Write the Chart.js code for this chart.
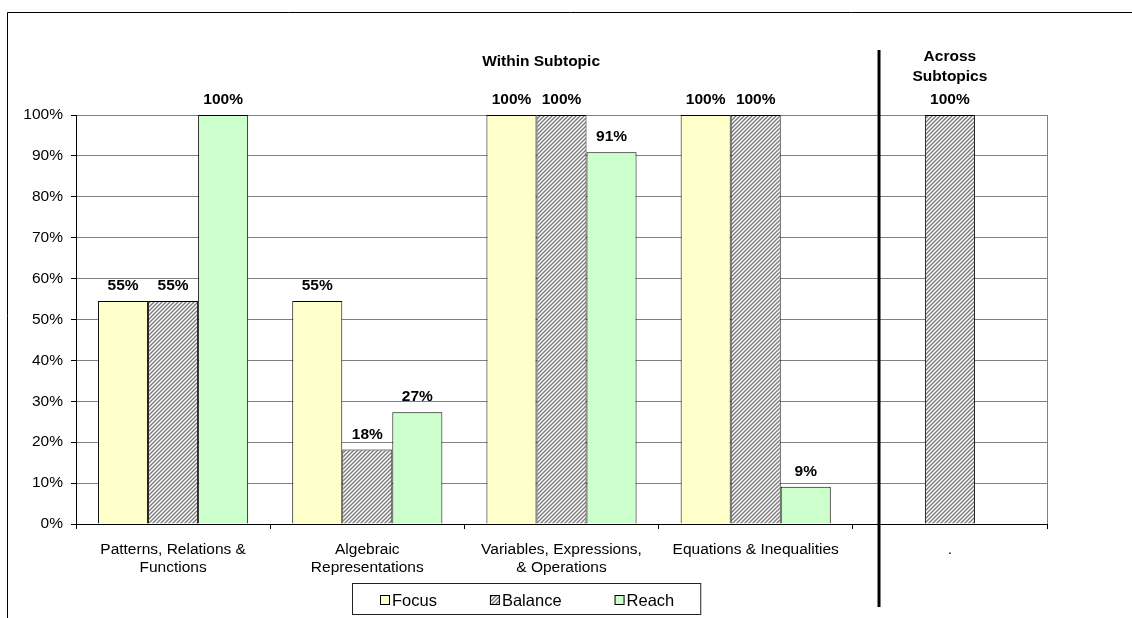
<!DOCTYPE html>
<html>
<head>
<meta charset="utf-8">
<script src="https://cdn.jsdelivr.net/npm/chart.js@4.4.1/dist/chart.umd.min.js"></script>
<style>
  html, body { margin: 0; padding: 0; background: #fff; }
  canvas { display: block; }
</style>
</head>
<body>
<canvas id="chart" width="1132" height="618"></canvas>
<script>
// Chart data
const categories = [
    ['Patterns, Relations &', 'Functions'],
    ['Algebraic', 'Representations'],
    ['Variables, Expressions,', '& Operations'],
    ['Equations & Inequalities'],
    ['.']
];
const focusValues = [54.5, 54.5, 100, 100, null];
const balanceValues = [54.5, 18.2, 100, 100, 100];
const reachValues = [100, 27.3, 90.9, 9.1, null];
const yTicks = [0, 10, 20, 30, 40, 50, 60, 70, 80, 90, 100];

const FONT = "Arial, 'Liberation Sans', sans-serif";
const FS = 15.5;

// Diagonal hatch used for the Balance series
function makeHatch() {
    const c = document.createElement('canvas');
    c.width = 4;
    c.height = 4;
    const g = c.getContext('2d');
    g.fillStyle = '#ffffff';
    g.fillRect(0, 0, 4, 4);
    g.strokeStyle = '#7a7a7a';
    g.lineWidth = 1.4;
    g.beginPath();
    g.moveTo(0, 4); g.lineTo(4, 0);
    g.moveTo(-1, 1); g.lineTo(1, -1);
    g.moveTo(3, 5); g.lineTo(5, 3);
    g.stroke();
    return g.createPattern(c, 'repeat');
}
const hatch = makeHatch();

// Extra drawing: frame, section divider, headings, value labels, legend
const decorations = {
    id: 'decorations',
    beforeDatasetsDraw(chart) {
        const ctx = chart.ctx;
        const a = chart.chartArea;
        ctx.save();
        ctx.strokeStyle = '#808080';
        ctx.lineWidth = 1;
        ctx.beginPath();
        ctx.moveTo(Math.round(a.right) + 0.5, a.top);
        ctx.lineTo(Math.round(a.right) + 0.5, a.bottom);
        ctx.stroke();
        ctx.restore();
    },
    afterDatasetsDraw(chart) {
        const ctx = chart.ctx;
        ctx.save();
        ctx.font = 'bold ' + FS + 'px ' + FONT;
        ctx.fillStyle = '#000';
        ctx.textAlign = 'center';
        ctx.textBaseline = 'alphabetic';
        chart.data.datasets.forEach((ds, i) => {
            const meta = chart.getDatasetMeta(i);
            meta.data.forEach((bar, j) => {
                const v = ds.data[j];
                if (v === null || v === undefined) return;
                ctx.fillText(Math.round(v) + '%', bar.x, bar.y - 11);
            });
        });
        ctx.restore();
    },
    afterDraw(chart) {
        const ctx = chart.ctx;
        const a = chart.chartArea;
        const xs = chart.scales.x;
        const catW = (a.right - a.left) / categories.length;
        ctx.save();

        // outer frame
        ctx.strokeStyle = '#000';
        ctx.lineWidth = 1;
        ctx.beginPath();
        ctx.moveTo(7.5, chart.height + 2);
        ctx.lineTo(7.5, 12.5);
        ctx.lineTo(chart.width + 2, 12.5);
        ctx.stroke();

        // thick divider between the two sections
        const divX = a.left + catW * 4 + catW * 0.135;
        ctx.lineWidth = 3;
        ctx.beginPath();
        ctx.moveTo(divX, 50);
        ctx.lineTo(divX, 607);
        ctx.stroke();

        // headings
        ctx.fillStyle = '#000';
        ctx.font = 'bold ' + FS + 'px ' + FONT;
        ctx.textAlign = 'center';
        ctx.textBaseline = 'middle';
        ctx.fillText('Within Subtopic', a.left + (a.right - a.left) * 0.479, 62);
        const acrossX = xs.getPixelForValue(4);
        ctx.fillText('Across', acrossX, 57);
        ctx.fillText('Subtopics', acrossX, 77);

        // legend
        ctx.font = '16.5px ' + FONT;
        const items = chart.data.datasets.map(ds => ({
            label: ds.label,
            fill: ds.backgroundColor,
            w: ctx.measureText(ds.label).width
        }));
        const box = 10, textGap = 2, itemGap = 53;
        let total = 0;
        items.forEach((it, i) => {
            total += box + textGap + it.w + (i < items.length - 1 ? itemGap : 0);
        });
        const cx = 527.5, cy = 600;
        let x = Math.round(cx - total / 2);
        ctx.strokeStyle = '#222';
        ctx.lineWidth = 1;
        ctx.strokeRect(x - 27.5, 583.5, total + 54, 31);
        ctx.textAlign = 'left';
        items.forEach(it => {
            ctx.fillStyle = it.fill;
            ctx.fillRect(x, cy - 5, box, box);
            ctx.strokeStyle = '#000';
            ctx.strokeRect(x + 0.5, cy - 4.5, box - 1, box - 1);
            ctx.fillStyle = '#000';
            ctx.fillText(it.label, x + box + textGap, cy + 1);
            x += box + textGap + it.w + itemGap;
        });

        ctx.restore();
    }
};

const chart = new Chart(document.getElementById('chart'), {
    type: 'bar',
    data: {
        labels: categories,
        datasets: [
            {
                label: 'Focus',
                data: focusValues,
                backgroundColor: '#FFFFCC',
                borderColor: '#000',
                borderWidth: 1
            },
            {
                label: 'Balance',
                data: balanceValues,
                backgroundColor: hatch,
                borderColor: '#000',
                borderWidth: 1
            },
            {
                label: 'Reach',
                data: reachValues,
                backgroundColor: '#CCFFCC',
                borderColor: '#000',
                borderWidth: 1
            }
        ]
    },
    options: {
        responsive: false,
        animation: false,
        devicePixelRatio: 1,
        categoryPercentage: 0.773,
        barPercentage: 1.0,
        layout: {
            padding: { left: 0, right: 85, top: 115, bottom: 0 }
        },
        plugins: {
            legend: { display: false },
            tooltip: { enabled: false }
        },
        scales: {
            x: {
                afterFit: scale => { scale.height = 94; },
                grid: {
                    drawOnChartArea: false,
                    tickLength: 5,
                    tickColor: '#000'
                },
                border: { color: '#000', width: 1 },
                ticks: {
                    color: '#000',
                    font: { family: FONT, size: FS, lineHeight: 1.16 },
                    padding: 12,
                    maxRotation: 0,
                    autoSkip: false
                }
            },
            y: {
                min: 0,
                max: 100,
                afterFit: scale => { scale.width = 76; },
                afterBuildTicks: scale => {
                    scale.ticks = yTicks.map(v => ({ value: v }));
                },
                grid: {
                    color: '#808080',
                    tickLength: 5,
                    tickColor: '#000'
                },
                border: { color: '#000', width: 1 },
                ticks: {
                    color: '#000',
                    font: { family: FONT, size: FS },
                    padding: 8,
                    callback: v => v + '%'
                }
            }
        }
    },
    plugins: [decorations]
});
</script>
</body>
</html>
